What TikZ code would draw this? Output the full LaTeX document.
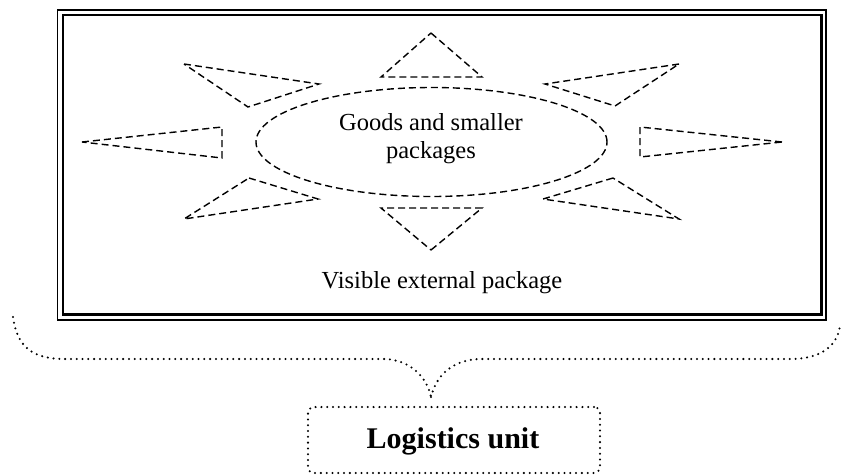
\documentclass[tikz,border=0pt]{standalone}
\usepackage{fontspec}
\setmainfont{Liberation Serif}
\usetikzlibrary{shapes.geometric}
\begin{document}
\begin{tikzpicture}[x=1pt,y=-1pt,
  dashline/.style={line width=1.4pt,dash pattern=on 7pt off 4pt},
  dotline/.style={line width=2.3pt,dash pattern=on 0pt off 5.8pt,line cap=round},
  lbl/.style={inner sep=0pt,anchor=base,font=\fontsize{24.5}{28}\selectfont}]
\useasboundingbox (0,0) rectangle (841,475);
% outer package (double border)
\draw[line width=1.4pt] (57.5,10) rectangle (826,320);
\draw[line width=2.2pt] (63,15) rectangle (821.5,314.5);
% inner goods ellipse
\node[ellipse,draw,dashline,minimum width=351pt,minimum height=109pt,inner sep=0pt] (goods) at (431.5,142) {};
\node[lbl] (t1) at (431,130) {Goods and smaller};
\node[lbl] (t2) at (431,158) {packages};
\node[lbl] (t3) at (442,288) {Visible external package};
% rays (dashed triangles)
\draw[dashline] (431,33) -- (482,77) -- (381,77) -- cycle;
\draw[dashline] (431,250) -- (482,208) -- (381,208) -- cycle;
\draw[dashline] (184,64) -- (319,84) -- (248,107) -- cycle;
\draw[dashline] (679,64) -- (545,84) -- (615,106) -- cycle;
\draw[dashline] (82,142) -- (222,127) -- (222,158) -- cycle;
\draw[dashline] (782,142) -- (640,127) -- (640,157) -- cycle;
\draw[dashline] (249,178) -- (318,199) -- (184,219) -- cycle;
\draw[dashline] (613,178) -- (543,199) -- (679,219) -- cycle;
% brace
\coordinate (bl) at (13,317);
\coordinate (br) at (840,325);
\coordinate (tip) at (431,397);
\draw[dotline] (bl) .. controls (17,345) and (30,359) .. (65,359) -- (385,359)
  .. controls (410,360) and (427,377) .. (tip);
\draw[dotline] (tip) .. controls (436,376) and (452,359) .. (482,359) -- (790,359)
  .. controls (822,359) and (838,345) .. (br);
% logistics unit
\node[draw,dotline,rounded corners=6pt,minimum width=292pt,minimum height=66pt,inner sep=0pt] (lu) at (454,440) {};
\node[inner sep=0pt,anchor=base,font=\fontsize{30}{34}\selectfont\bfseries] (lut) at (453,448) {Logistics unit};
\end{tikzpicture}
\end{document}
